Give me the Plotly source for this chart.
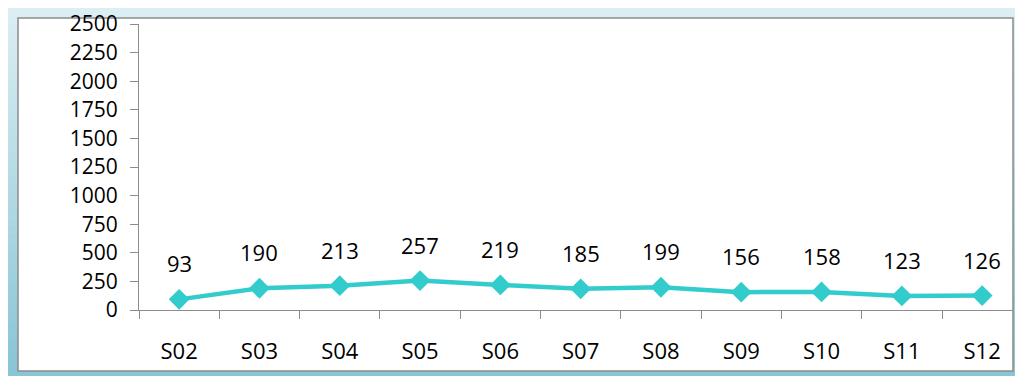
import plotly.graph_objects as go

# Weekly sample counts
categories = ["S02", "S03", "S04", "S05", "S06", "S07", "S08", "S09", "S10", "S11", "S12"]
values = [93, 190, 213, 257, 219, 185, 199, 156, 158, 123, 126]
y_ticks = [0, 250, 500, 750, 1000, 1250, 1500, 1750, 2000, 2250, 2500]

W, H = 1015, 376
LINE = "#33CCCC"
FONT = "Open Sans"
FS = 22      # category and value labels
FS_Y = 21    # value-axis tick labels (tightly stacked)

# margins: plot area x 139..1013, y 24..310
ml, mr, mt, mb = 139, W - 1013, 24, H - 310
pw, ph = W - ml - mr, H - mt - mb


def fx(p):
    """pixel x -> paper fraction"""
    return (p - ml) / pw


def fy(p):
    """pixel y (from top) -> paper fraction"""
    return (H - mb - p) / ph


fig = go.Figure()
fig.add_trace(go.Scatter(
    x=categories, y=values, mode="lines+markers",
    line=dict(color=LINE, width=4.5),
    marker=dict(symbol="diamond", size=16, color=LINE),
    cliponaxis=False, hoverinfo="skip",
))

# value labels above each point
for c, v in zip(categories, values):
    fig.add_annotation(x=c, y=v, text=str(v), showarrow=False, yshift=36,
                       font=dict(family=FONT, size=FS, color="#000000"))

# frame: vertical gradient band behind a white chart panel
shapes = []
n = 46
top_rgb = (0xDB, 0xEE, 0xF3)
bot_rgb = (0x88, 0xC5, 0xD5)
y0, y1 = 8, H + 2
for i in range(n):
    t = i / (n - 1)
    col = tuple(round(a + (b - a) * t) for a, b in zip(top_rgb, bot_rgb))
    ya = y0 + (y1 - y0) * i / n
    yb = y0 + (y1 - y0) * (i + 1) / n + 0.6
    shapes.append(dict(type="rect", xref="paper", yref="paper", layer="below",
                       x0=fx(8), x1=fx(W + 5), y0=fy(yb), y1=fy(ya),
                       fillcolor="rgb(%d,%d,%d)" % col, line=dict(width=0)))

# white panel
px0, px1, py0, py1 = 18, 1013, 18, 371
shapes.append(dict(type="rect", xref="paper", yref="paper", layer="below",
                   x0=fx(px0), x1=fx(px1), y0=fy(py1), y1=fy(py0),
                   fillcolor="#FFFFFF", line=dict(color="#8C8C8C", width=1.5)))

fig.update_layout(
    width=W, height=H,
    margin=dict(l=ml, r=mr, t=mt, b=mb, pad=0),
    paper_bgcolor="#FFFFFF", plot_bgcolor="rgba(0,0,0,0)",
    showlegend=False, shapes=shapes,
    font=dict(family=FONT, size=FS, color="#000000"),
    xaxis=dict(type="category", range=[-0.5, -0.5 + (1013 - 139) / 80.3],
               tickson="boundaries", ticks="outside", ticklen=8, tickwidth=1,
               tickcolor="#8C8C8C", showline=True, linecolor="#8C8C8C", linewidth=1,
               showgrid=False, zeroline=False, ticklabelstandoff=22,
               tickfont=dict(family=FONT, size=FS, color="#000000")),
    yaxis=dict(range=[0, 2500], tickvals=y_ticks, ticks="outside", ticklen=8,
               tickwidth=1, tickcolor="#8C8C8C", showline=True, linecolor="#8C8C8C",
               linewidth=1, showgrid=False, zeroline=False, ticklabelstandoff=8,
               tickfont=dict(family=FONT, size=FS_Y, color="#000000")),
)

fig.write_html("out.html")
